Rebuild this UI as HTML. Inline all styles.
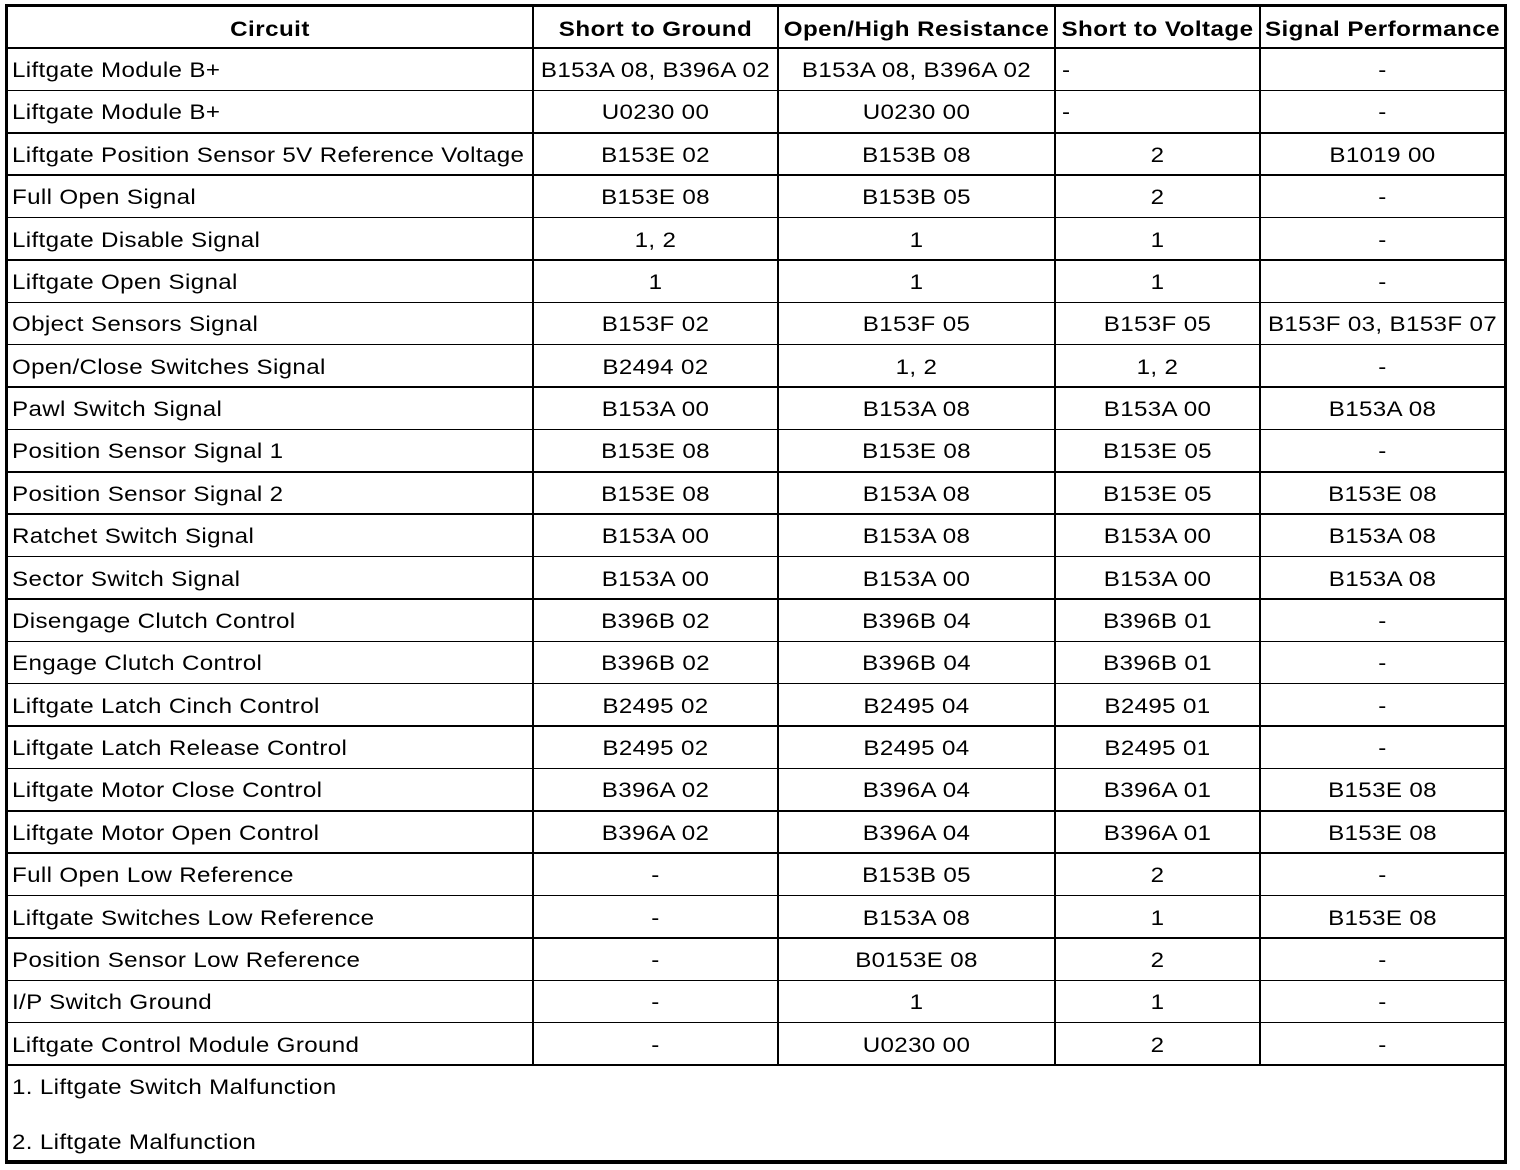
<!DOCTYPE html>
<html>
<head>
<meta charset="utf-8">
<style>
  html,body{margin:0;padding:0;background:#fff;}
  body{width:1520px;height:1170px;position:relative;overflow:hidden;font-family:"Liberation Sans",Arial,sans-serif;color:#000;}
  .frame{position:absolute;left:5px;top:4px;width:1502px;height:1160px;box-sizing:border-box;border:3px solid #000;border-bottom-width:4px;}
  .h{position:absolute;left:5px;width:1500px;height:1.5px;background:#000;}
  .v{position:absolute;top:4px;width:2px;height:1061px;background:#000;}
  .r{position:absolute;left:0;width:1520px;height:42.375px;}
  .r span{position:absolute;top:1px;height:42px;line-height:43px;font-size:21px;letter-spacing:0.3px;white-space:nowrap;text-align:center;transform:scaleX(1.15);transform-origin:50% 50%;}
  .r span.c0{left:12px;text-align:left;transform-origin:0 50%;}
  .r span.c1{left:534px;width:243px;}
  .r span.c2{left:779px;width:275px;}
  .r span.c3{left:1056px;width:203px;}
  .r span.c4{left:1261px;width:243px;}
  .r span.l3{left:1062px;text-align:left;transform-origin:0 50%;}
  .hd span{font-weight:bold;letter-spacing:0.4px;line-height:44px;top:2px;}
  .hd span.c0{left:8px;width:524px;text-align:center;transform-origin:50% 50%;}
  .ft{position:absolute;left:12px;font-size:21px;letter-spacing:0.3px;white-space:nowrap;transform:scaleX(1.15);transform-origin:0 50%;}
</style>
</head>
<body>
<div class="frame"></div>
<div class="h" style="top:47px;height:2px;"></div>
<div class="h" style="top:89.6px"></div>
<div class="h" style="top:132px"></div>
<div class="h" style="top:174.4px"></div>
<div class="h" style="top:216.7px"></div>
<div class="h" style="top:259.1px"></div>
<div class="h" style="top:301.5px"></div>
<div class="h" style="top:343.9px"></div>
<div class="h" style="top:386.2px"></div>
<div class="h" style="top:428.6px"></div>
<div class="h" style="top:471px"></div>
<div class="h" style="top:513.4px"></div>
<div class="h" style="top:555.7px"></div>
<div class="h" style="top:598.1px"></div>
<div class="h" style="top:640.5px"></div>
<div class="h" style="top:682.9px"></div>
<div class="h" style="top:725.2px"></div>
<div class="h" style="top:767.6px"></div>
<div class="h" style="top:810px"></div>
<div class="h" style="top:852.4px"></div>
<div class="h" style="top:894.7px"></div>
<div class="h" style="top:937.1px"></div>
<div class="h" style="top:979.5px"></div>
<div class="h" style="top:1021.9px"></div>
<div class="h" style="top:1064px;height:2px;"></div>
<div class="v" style="left:532px"></div>
<div class="v" style="left:777px"></div>
<div class="v" style="left:1054px"></div>
<div class="v" style="left:1259px"></div>

<div class="r hd" style="top:6px;"><span class="c0">Circuit</span><span class="c1">Short to Ground</span><span class="c2">Open/High Resistance</span><span class="c3">Short to Voltage</span><span class="c4">Signal Performance</span></div>

<div class="r" style="top:48px"><span class="c0">Liftgate Module B+</span><span class="c1">B153A 08, B396A 02</span><span class="c2">B153A 08, B396A 02</span><span class="l3">-</span><span class="c4">-</span></div>
<div class="r" style="top:90.375px"><span class="c0">Liftgate Module B+</span><span class="c1">U0230 00</span><span class="c2">U0230 00</span><span class="l3">-</span><span class="c4">-</span></div>
<div class="r" style="top:132.75px"><span class="c0">Liftgate Position Sensor 5V Reference Voltage</span><span class="c1">B153E 02</span><span class="c2">B153B 08</span><span class="c3">2</span><span class="c4">B1019 00</span></div>
<div class="r" style="top:175.125px"><span class="c0">Full Open Signal</span><span class="c1">B153E 08</span><span class="c2">B153B 05</span><span class="c3">2</span><span class="c4">-</span></div>
<div class="r" style="top:217.5px"><span class="c0">Liftgate Disable Signal</span><span class="c1">1, 2</span><span class="c2">1</span><span class="c3">1</span><span class="c4">-</span></div>
<div class="r" style="top:259.875px"><span class="c0">Liftgate Open Signal</span><span class="c1">1</span><span class="c2">1</span><span class="c3">1</span><span class="c4">-</span></div>
<div class="r" style="top:302.25px"><span class="c0">Object Sensors Signal</span><span class="c1">B153F 02</span><span class="c2">B153F 05</span><span class="c3">B153F 05</span><span class="c4">B153F 03, B153F 07</span></div>
<div class="r" style="top:344.625px"><span class="c0">Open/Close Switches Signal</span><span class="c1">B2494 02</span><span class="c2">1, 2</span><span class="c3">1, 2</span><span class="c4">-</span></div>
<div class="r" style="top:387px"><span class="c0">Pawl Switch Signal</span><span class="c1">B153A 00</span><span class="c2">B153A 08</span><span class="c3">B153A 00</span><span class="c4">B153A 08</span></div>
<div class="r" style="top:429.375px"><span class="c0">Position Sensor Signal 1</span><span class="c1">B153E 08</span><span class="c2">B153E 08</span><span class="c3">B153E 05</span><span class="c4">-</span></div>
<div class="r" style="top:471.75px"><span class="c0">Position Sensor Signal 2</span><span class="c1">B153E 08</span><span class="c2">B153A 08</span><span class="c3">B153E 05</span><span class="c4">B153E 08</span></div>
<div class="r" style="top:514.125px"><span class="c0">Ratchet Switch Signal</span><span class="c1">B153A 00</span><span class="c2">B153A 08</span><span class="c3">B153A 00</span><span class="c4">B153A 08</span></div>
<div class="r" style="top:556.5px"><span class="c0">Sector Switch Signal</span><span class="c1">B153A 00</span><span class="c2">B153A 00</span><span class="c3">B153A 00</span><span class="c4">B153A 08</span></div>
<div class="r" style="top:598.875px"><span class="c0">Disengage Clutch Control</span><span class="c1">B396B 02</span><span class="c2">B396B 04</span><span class="c3">B396B 01</span><span class="c4">-</span></div>
<div class="r" style="top:641.25px"><span class="c0">Engage Clutch Control</span><span class="c1">B396B 02</span><span class="c2">B396B 04</span><span class="c3">B396B 01</span><span class="c4">-</span></div>
<div class="r" style="top:683.625px"><span class="c0">Liftgate Latch Cinch Control</span><span class="c1">B2495 02</span><span class="c2">B2495 04</span><span class="c3">B2495 01</span><span class="c4">-</span></div>
<div class="r" style="top:726px"><span class="c0">Liftgate Latch Release Control</span><span class="c1">B2495 02</span><span class="c2">B2495 04</span><span class="c3">B2495 01</span><span class="c4">-</span></div>
<div class="r" style="top:768.375px"><span class="c0">Liftgate Motor Close Control</span><span class="c1">B396A 02</span><span class="c2">B396A 04</span><span class="c3">B396A 01</span><span class="c4">B153E 08</span></div>
<div class="r" style="top:810.75px"><span class="c0">Liftgate Motor Open Control</span><span class="c1">B396A 02</span><span class="c2">B396A 04</span><span class="c3">B396A 01</span><span class="c4">B153E 08</span></div>
<div class="r" style="top:853.125px"><span class="c0">Full Open Low Reference</span><span class="c1">-</span><span class="c2">B153B 05</span><span class="c3">2</span><span class="c4">-</span></div>
<div class="r" style="top:895.5px"><span class="c0">Liftgate Switches Low Reference</span><span class="c1">-</span><span class="c2">B153A 08</span><span class="c3">1</span><span class="c4">B153E 08</span></div>
<div class="r" style="top:937.875px"><span class="c0">Position Sensor Low Reference</span><span class="c1">-</span><span class="c2">B0153E 08</span><span class="c3">2</span><span class="c4">-</span></div>
<div class="r" style="top:980.25px"><span class="c0">I/P Switch Ground</span><span class="c1">-</span><span class="c2">1</span><span class="c3">1</span><span class="c4">-</span></div>
<div class="r" style="top:1022.625px"><span class="c0">Liftgate Control Module Ground</span><span class="c1">-</span><span class="c2">U0230 00</span><span class="c3">2</span><span class="c4">-</span></div>

<div class="ft" style="top:1076px;">1. Liftgate Switch Malfunction</div>
<div class="ft" style="top:1131px;">2. Liftgate Malfunction</div>
</body>
</html>
